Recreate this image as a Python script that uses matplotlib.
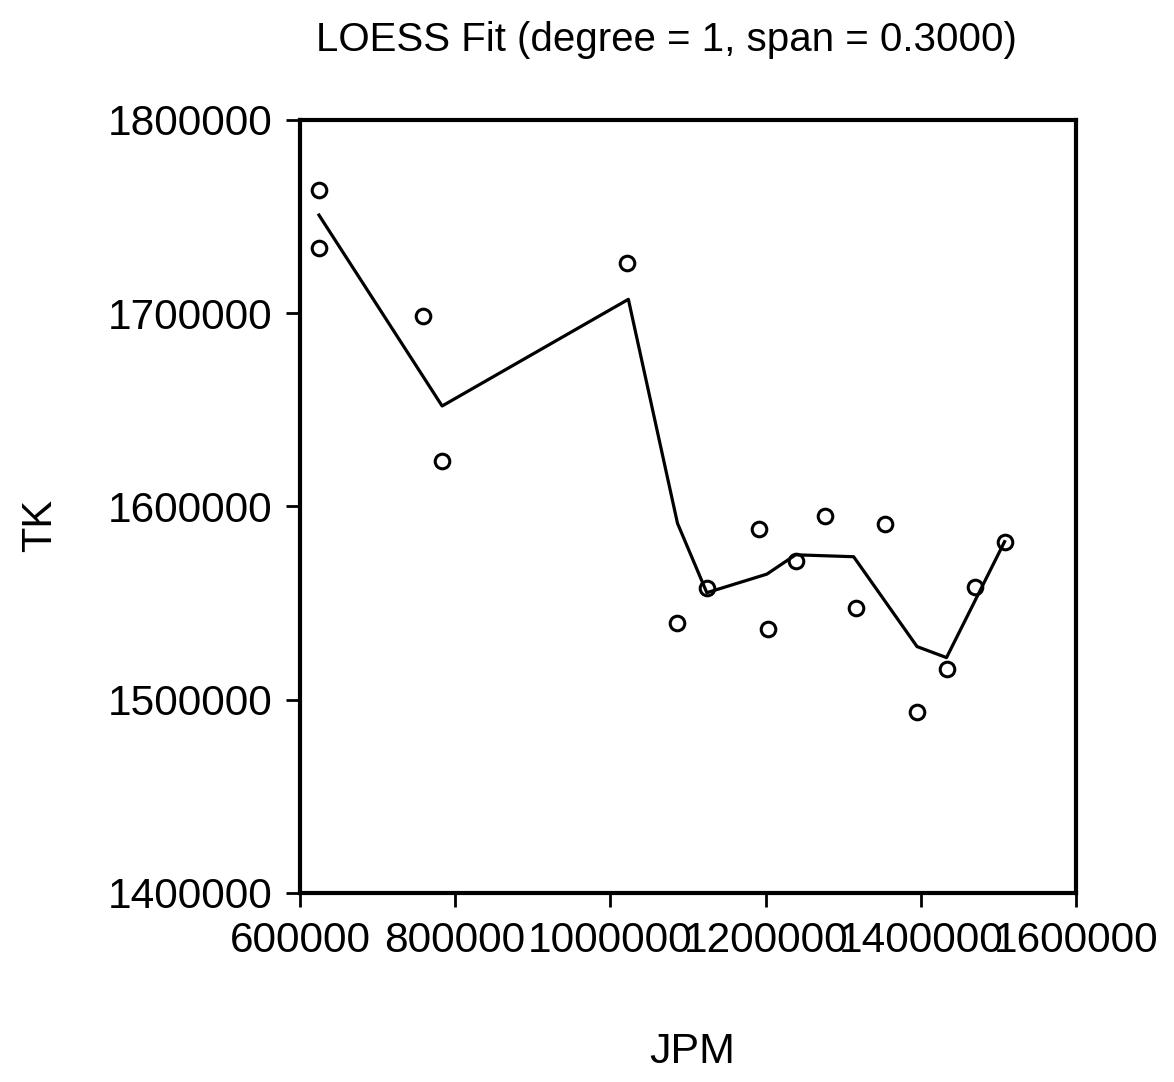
import numpy as np
import matplotlib
matplotlib.use("Agg")
import matplotlib.pyplot as plt

plt.rcParams['font.family'] = ['Liberation Sans', 'DejaVu Sans']

# observed data (JPM, TK)
jpm = [624500, 624500, 758700, 783200, 1021900, 1086500, 1124300, 1191000,
       1202600, 1239000, 1276000, 1316000, 1353500, 1395700, 1433200,
       1469300, 1508000]
tk = [1763800, 1733600, 1698600, 1623500, 1725800, 1539500, 1557700, 1588200,
      1536400, 1571900, 1595100, 1547600, 1591100, 1493500, 1515800,
      1558200, 1581800]

# LOESS fitted curve
fit_x = [624500, 783200, 1023200, 1086500, 1124300, 1201700, 1238700,
         1313500, 1395200, 1433200, 1508000]
fit_y = [1750800, 1652000, 1707200, 1591300, 1555400, 1565000, 1575000,
         1574000, 1527500, 1521800, 1581800]

xticks = [600000, 800000, 1000000, 1200000, 1400000, 1600000]
yticks = [1400000, 1500000, 1600000, 1700000, 1800000]

fig = plt.figure(figsize=(11.74, 10.82), dpi=100)
ax = fig.add_axes([0.2555, 0.1747, 0.661, 0.7144])

ax.plot(fit_x, fit_y, color='black', lw=2.3)
ax.plot(jpm, tk, 'o', mfc='none', mec='black', ms=10.5, mew=2.2)

ax.set_xlim(600000, 1600000)
ax.set_ylim(1400000, 1800000)
ax.set_xticks(xticks)
ax.set_yticks(yticks)
ax.set_xticklabels([str(v) for v in xticks])
ax.set_yticklabels([str(v) for v in yticks])
ax.tick_params(direction='out', length=10, width=2, labelsize=30.5, pad=10)
for s in ax.spines.values():
    s.set_linewidth(3)

fig.text(666/1174, 1 - 40/1082, 'LOESS Fit (degree = 1, span = 0.3000)',
         ha='center', va='center', fontsize=29)
fig.text(692/1174, 1 - 1052/1082, 'JPM', ha='center', va='center', fontsize=31)
fig.text(40/1174, 1 - 525/1082, 'TK', ha='center', va='center', fontsize=30,
         rotation=90)

fig.savefig('out.png', dpi=100)
